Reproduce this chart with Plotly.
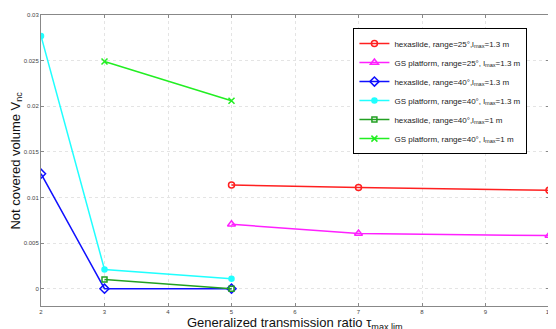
import plotly.graph_objects as go

x_hexa25 = [5, 7, 10]
y_hexa25 = [0.01137, 0.01109, 0.01079]
x_gs25 = [5, 7, 10]
y_gs25 = [0.00706, 0.00604, 0.00582]
x_hexa40 = [2, 3, 5]
y_hexa40 = [0.0126, 0.0, 0.0]
x_gs40 = [2, 3, 5]
y_gs40 = [0.0277, 0.0021, 0.0011]
x_hexa40_1m = [3, 5]
y_hexa40_1m = [0.0010, 0.0]
x_gs40_1m = [3, 5]
y_gs40_1m = [0.0249, 0.0206]

names = [
    "hexaslide, range=25°,l<sub>max</sub>=1.3 m",
    "GS platform, range=25°, l<sub>max</sub>=1.3 m",
    "hexaslide, range=40°,l<sub>max</sub>=1.3 m",
    "GS platform, range=40°, l<sub>max</sub>=1.3 m",
    "hexaslide, range=40°,l<sub>max</sub>=1 m",
    "GS platform, range=40°, l<sub>max</sub>=1 m",
]

series = [
    (x_hexa25, y_hexa25, "#ff2020", "circle-open", 6),
    (x_gs25, y_gs25, "#ff20ff", "triangle-up-open", 7),
    (x_hexa40, y_hexa40, "#1010ff", "diamond-open", 7),
    (x_gs40, y_gs40, "#20ffff", "circle", 5),
    (x_hexa40_1m, y_hexa40_1m, "#22a022", "square-open", 5),
    (x_gs40_1m, y_gs40_1m, "#22ee22", "x-thin-open", 6),
]

fig = go.Figure()
for (xs, ys, c, sym, sz), nm in zip(series, names):
    fig.add_trace(go.Scatter(
        x=xs, y=ys, name=nm, mode="lines+markers",
        line=dict(color=c, width=1.5),
        marker=dict(symbol=sym, size=sz, color=c, line=dict(color=c, width=1.5)),
    ))

axis_common = dict(
    showline=True, linecolor="#888888", linewidth=1, mirror="ticks",
    ticks="inside", ticklen=3, tickcolor="#888888",
    showgrid=True, gridcolor="#e4e4e4", griddash="dot", gridwidth=1,
    zeroline=False, ticklabeloverflow="allow",
    tickfont=dict(size=6, family="Liberation Sans", color="#444444"),
)

fig.update_layout(
    width=548, height=321,
    margin=dict(l=33, r=3, t=7, b=23),
    paper_bgcolor="white", plot_bgcolor="white",
    xaxis=dict(range=[2, 10], dtick=1, **axis_common),
    yaxis=dict(range=[-0.0019, 0.03], tickvals=[0, 0.005, 0.01, 0.015, 0.02, 0.025, 0.03],
               ticktext=["0", "0.005", "0.01", "0.015", "0.02", "0.025", "0.03"], **axis_common),
    legend=dict(
        x=0.615, y=0.955, xanchor="left", yanchor="top",
        bgcolor="white", bordercolor="#000000", borderwidth=1,
        font=dict(size=8, family="Liberation Sans", color="#222222"),
        tracegroupgap=0, itemwidth=30,
    ),
    annotations=[
        dict(text="Not covered volume V<sub>nc</sub>", xref="paper", yref="paper",
             x=-0.049, y=0.5, textangle=-90, showarrow=False, xanchor="center", yanchor="middle",
             font=dict(size=13, family="Liberation Sans", color="#111111")),
        dict(text="Generalized transmission ratio τ<sub>max lim</sub>", xref="paper", yref="paper",
             x=0.5, y=-0.06, showarrow=False, xanchor="center", yanchor="middle",
             font=dict(size=13, family="Liberation Sans", color="#111111")),
    ],
)

fig.write_html("out.html")
